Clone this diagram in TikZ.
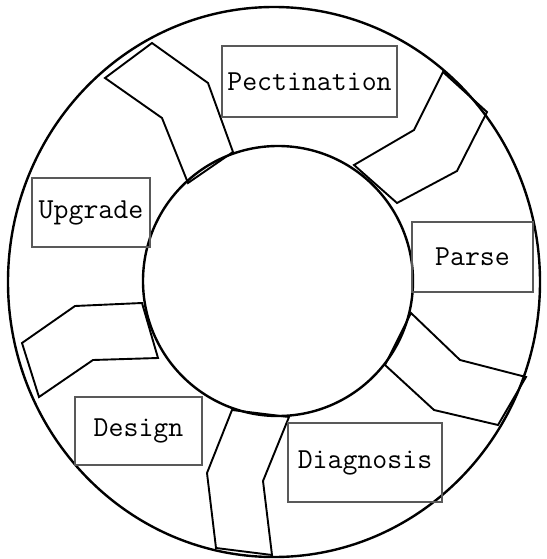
\documentclass[tikz,border=0pt]{standalone}
\usetikzlibrary{positioning}
\begin{document}
\begin{tikzpicture}[x=1pt, y=-1pt,
  ring/.style={draw=black, line width=2.4pt},
  band/.style={draw=black, line width=1.9pt, line join=miter},
  stagebox/.style={rectangle, draw=black!65, line width=1.3pt, inner sep=0pt,
                   font=\fontsize{29}{34}\selectfont\ttfamily},
]
\useasboundingbox (0,0) rectangle (546,559);

%% RINGS
\draw[ring] (274,282) ellipse [x radius=266, y radius=275];
\draw[ring] (278,281) circle [radius=135];

%% BANDS
\draw[band] (105,78) -- (162,118) -- (188,183) -- (233,152) -- (208,83) -- (152,43) -- cycle;
\draw[band] (443,72) -- (414,130) -- (354,165) -- (397,203) -- (457,171) -- (487,112) -- cycle;
\draw[band] (411,313) -- (460,360) -- (526,377) -- (498,425) -- (434,410) -- (385,365) -- cycle;
\draw[band] (232,410) -- (207,473) -- (216,548) -- (272,555) -- (263,481) -- (289,417) -- cycle;
\draw[band] (22,343) -- (75,306) -- (142,303) -- (158,358) -- (93,360) -- (39,397) -- cycle;

%% STAGES
\node[stagebox, minimum width=175pt, minimum height=71pt] (pect)  at (309.5,81.5) {Pectination};
\node[stagebox, minimum width=118pt, minimum height=69pt] (upg)   at (91,212.5)   {Upgrade};
\node[stagebox, minimum width=121pt, minimum height=70pt] (parse) at (472.5,257)  {Parse};
\node[stagebox, minimum width=127pt, minimum height=68pt] (des)   at (138.5,431)  {Design};
\node[stagebox, minimum width=154pt, minimum height=79pt] (diag)  at (365,462.5)  {Diagnosis};
\end{tikzpicture}
\end{document}
